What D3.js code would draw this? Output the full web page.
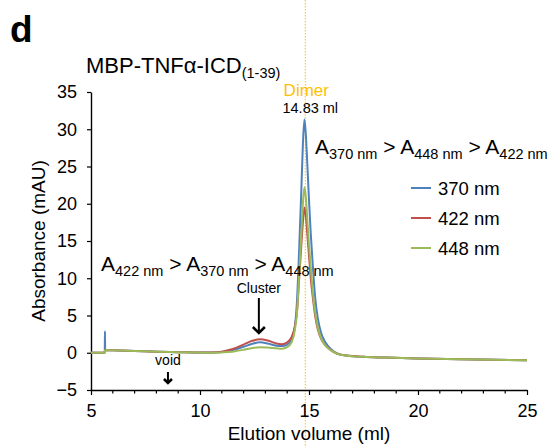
<!DOCTYPE html>
<html>
<head>
<meta charset="utf-8">
<script src="https://cdn.jsdelivr.net/npm/d3@7"></script>
<style>
  body { margin: 0; background: #fff; }
  text { font-family: "Liberation Sans", Arial, Helvetica, sans-serif; }
</style>
</head>
<body>
<script>
// elution volume (ml) and absorbance (mAU)
var vol = [5.0, 5.63, 5.64, 5.65, 5.66, 6, 7, 8, 9, 10, 10.5, 11, 11.5, 12, 12.4, 12.75, 13.1, 13.5, 13.76, 14.0, 14.2, 14.35, 14.45, 14.55, 14.65, 14.72, 14.79, 14.85, 14.92, 15.0, 15.08, 15.18, 15.28, 15.4, 15.55, 15.75, 16.0, 16.3, 16.75, 17.5, 18.5, 20, 22, 25]
var a370 = [0.0, 0.0, 2.9, 0.35, 0.35, 0.33, 0.25, 0.15, 0.08, 0.02, 0.02, 0.1, 0.35, 0.8, 1.2, 1.4, 1.25, 0.95, 0.9, 1.1, 1.8, 3.5, 7, 14, 22, 28, 31.3, 29.5, 25.5, 20.5, 16, 11.5, 7.5, 4.7, 2.7, 1.4, 0.5, -0.1, -0.4, -0.55, -0.65, -0.78, -0.88, -1.0]
var a422 = [0.0, 0.0, 0.35, 0.35, 0.35, 0.33, 0.25, 0.15, 0.08, 0.02, 0.04, 0.15, 0.5, 1.1, 1.6, 1.8, 1.65, 1.25, 1.15, 1.4, 2.1, 3.5, 5.5, 10, 14.5, 17.5, 19.5, 18.5, 16, 13, 10, 7.3, 5, 3.2, 1.9, 1.0, 0.35, -0.15, -0.38, -0.55, -0.65, -0.78, -0.88, -1.0]
var a448 = [0.0, 0.0, 0.35, 0.35, 0.35, 0.33, 0.25, 0.15, 0.08, 0.02, 0.01, 0.05, 0.15, 0.4, 0.65, 0.75, 0.7, 0.6, 0.55, 0.75, 1.4, 3.0, 5.5, 10.5, 16, 20, 22.2, 21, 18, 14.5, 11.5, 8, 5.5, 3.5, 2.0, 1.0, 0.35, -0.15, -0.4, -0.55, -0.65, -0.78, -0.88, -1.0]

var seriesNames = ['370 nm', '422 nm', '448 nm']
var seriesColors = ['#4f81bd', '#c0504d', '#9bbb59']
var seriesData = [a370, a422, a448]

var xTicks = [5, 10, 15, 20, 25]
var xMinorTicks = d3.range(5, 26, 1)
var yTicks = [-5, 0, 5, 10, 15, 20, 25, 30, 35]
var dimerVol = 14.83

var W = 555, H = 446
var svg = d3.select('body').append('svg').attr('width', W).attr('height', H)

var x = d3.scaleLinear().domain([5, 25]).range([91, 527])
var y = d3.scaleLinear().domain([-5, 35]).range([390, 92])

// dimer dotted line (full height)
svg.append('line')
  .attr('x1', x(dimerVol)).attr('x2', x(dimerVol))
  .attr('y1', 0).attr('y2', H)
  .attr('stroke', '#ffc000').attr('stroke-width', 1)
  .attr('stroke-dasharray', '1.5,1.5')

// axes
var xAxis = svg.append('g').attr('transform', 'translate(0,' + y(-5) + ')')
  .call(d3.axisBottom(x).tickValues(xTicks).tickSize(5).tickSizeOuter(0).tickPadding(9).tickFormat(d3.format('d')))
xAxis.selectAll('.minor').data(xMinorTicks.filter(function (d) { return xTicks.indexOf(d) < 0 }))
  .enter().append('line').attr('class', 'minor')
  .attr('x1', function (d) { return x(d) }).attr('x2', function (d) { return x(d) })
  .attr('y1', 0).attr('y2', 3.5).attr('stroke', '#000').attr('stroke-width', 1.2)

var yAxis = svg.append('g').attr('transform', 'translate(' + x(5) + ',0)')
  .call(d3.axisLeft(y).tickValues(yTicks).tickSize(4).tickSizeOuter(0).tickPadding(10).tickFormat(d3.format('d')))

svg.selectAll('.domain').attr('stroke', '#000').attr('stroke-width', 1.4)
svg.selectAll('.tick line').attr('stroke', '#000').attr('stroke-width', 1.2)
svg.selectAll('.tick text').attr('font-size', 18).attr('fill', '#000')
  .attr('font-family', '"Liberation Sans", Arial, sans-serif')

// traces
var line = d3.line().x(function (d, i) { return x(vol[i]) }).y(function (d) { return y(d) })
  .curve(d3.curveMonotoneX)
seriesData.forEach(function (s, k) {
  svg.append('path').datum(s)
    .attr('d', line)
    .attr('fill', 'none')
    .attr('stroke', seriesColors[k])
    .attr('stroke-width', 2)
    .attr('stroke-linejoin', 'round')
})

// labels
svg.append('text').attr('x', 10).attr('y', 42).attr('font-size', 37).attr('font-weight', 'bold').text('d')

var title = svg.append('text').attr('x', 86).attr('y', 73).attr('font-size', 22)
title.append('tspan').text('MBP-TNFα-ICD')
title.append('tspan').attr('font-size', 14.5).attr('dy', 5).text('(1-39)')

svg.append('text').attr('x', x((5 + 25) / 2)).attr('y', 440).attr('text-anchor', 'middle')
  .attr('font-size', 19).text('Elution volume (ml)')
svg.append('text').attr('transform', 'translate(45,' + y(15) + ') rotate(-90)')
  .attr('text-anchor', 'middle').attr('font-size', 19).text('Absorbance (mAU)')

svg.append('text').attr('x', x(dimerVol) + 1).attr('y', 96).attr('text-anchor', 'middle')
  .attr('font-size', 17).attr('fill', '#ffc000').text('Dimer')
svg.append('text').attr('x', x(dimerVol) + 5).attr('y', 113).attr('text-anchor', 'middle')
  .attr('font-size', 14.5).text('14.83 ml')

function ratioLabel (xp, yp, subs) {
  var t = svg.append('text').attr('x', xp).attr('y', yp).attr('font-size', 21)
  subs.forEach(function (s, i) {
    t.append('tspan').attr('dy', i === 0 ? 0 : -5).text((i === 0 ? '' : ' > ') + 'A')
    t.append('tspan').attr('font-size', 14.5).attr('dy', 5).text(s)
  })
}
ratioLabel(315, 154, ['370 nm', '448 nm', '422 nm'])
ratioLabel(101, 271, ['422 nm', '370 nm', '448 nm'])

// arrows
function arrow (xp, y1, y2, hw) {
  svg.append('line').attr('x1', xp).attr('x2', xp).attr('y1', y1).attr('y2', y2 - 1)
    .attr('stroke', '#000').attr('stroke-width', 2)
  svg.append('path')
    .attr('d', 'M' + (xp - hw) + ',' + (y2 - hw) + 'L' + xp + ',' + y2 + 'L' + (xp + hw) + ',' + (y2 - hw))
    .attr('fill', 'none').attr('stroke', '#000').attr('stroke-width', 2.5)
}
svg.append('text').attr('x', x(12.7)).attr('y', 293).attr('text-anchor', 'middle').attr('font-size', 14).text('Cluster')
arrow(x(12.7), 298, 333, 6)
svg.append('text').attr('x', x(8.53)).attr('y', 365).attr('text-anchor', 'middle').attr('font-size', 14).text('void')
arrow(x(8.53), 372, 383, 4)

// legend
var leg = svg.append('g')
seriesNames.forEach(function (nm, k) {
  var ly = 188 + k * 30
  leg.append('line').attr('x1', 411).attr('x2', 431).attr('y1', ly).attr('y2', ly)
    .attr('stroke', seriesColors[k]).attr('stroke-width', 2)
  leg.append('text').attr('x', 438).attr('y', ly + 7).attr('font-size', 18.5).text(nm)
})
</script>
</body>
</html>
